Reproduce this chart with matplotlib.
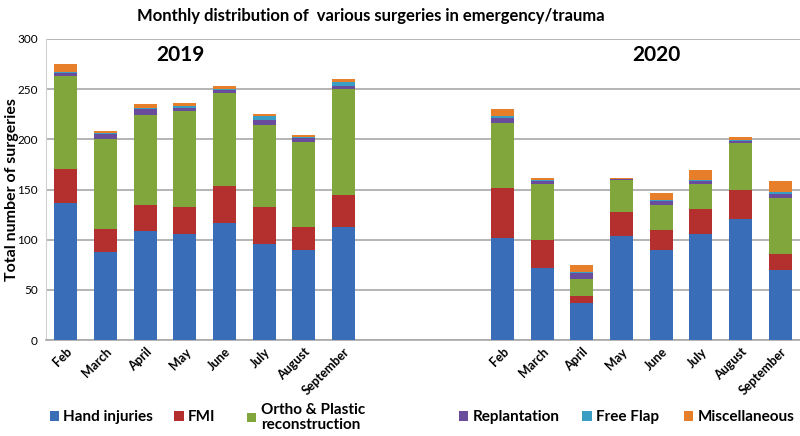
import matplotlib.pyplot as plt
import numpy as np

plt.rcParams['font.family'] = ['Lato', 'DejaVu Sans']

months = ['Feb', 'March', 'April', 'May', 'June', 'July', 'August', 'September']
series = ['Hand injuries', 'FMI', 'Ortho & Plastic\nreconstruction',
          'Replantation', 'Free Flap', 'Miscellaneous']
colors = ['#396DB8', '#B3302E', '#80A63C', '#6A4C9C', '#3A9EC4', '#E67E2A']

# 2019 values per series (Feb..September)
hand_2019 = [137, 88, 109, 106, 117, 96, 90, 113]
fmi_2019 = [33, 23, 26, 27, 37, 37, 23, 32]
ortho_2019 = [93, 89, 89, 95, 92, 81, 84, 105]
repl_2019 = [3, 5, 6, 3, 3, 5, 4, 3]
flap_2019 = [1, 1, 1, 2, 1, 4, 1, 4]
misc_2019 = [8, 2, 4, 3, 3, 2, 2, 3]

# 2020 values per series (Feb..September)
hand_2020 = [102, 72, 37, 104, 90, 106, 121, 70]
fmi_2020 = [50, 28, 7, 24, 20, 25, 29, 16]
ortho_2020 = [64, 56, 17, 31, 25, 25, 46, 56]
repl_2020 = [5, 2, 6, 1, 4, 2, 2, 4]
flap_2020 = [2, 1, 1, 0, 1, 1, 1, 2]
misc_2020 = [7, 2, 7, 1, 7, 10, 3, 10]

data_2019 = [hand_2019, fmi_2019, ortho_2019, repl_2019, flap_2019, misc_2019]
data_2020 = [hand_2020, fmi_2020, ortho_2020, repl_2020, flap_2020, misc_2020]

fig = plt.figure(figsize=(8, 4.36), dpi=100)
ax = fig.add_axes([0.0575, 0.22, 0.9425, 0.6906])

x19 = np.arange(len(months))
x20 = np.arange(len(months)) + 11
width = 0.58

handles = []
for xs, data in [(x19, data_2019), (x20, data_2020)]:
    bottom = np.zeros(len(months))
    hs = []
    for vals, c in zip(data, colors):
        b = ax.bar(xs, vals, width, bottom=bottom, color=c, zorder=3)
        bottom += np.array(vals)
        hs.append(b)
    handles = hs

ax.set_xlim(-0.5, 18.5)
ax.set_ylim(0, 300)
ax.set_yticks(np.arange(0, 301, 50))
ax.tick_params(axis='y', length=0, labelsize=8.5, pad=6)
ax.set_xticks(np.concatenate([x19, x20]))
ax.set_xticklabels(months + months, rotation=45, ha='right', rotation_mode='anchor',
                   fontsize=9, fontweight='bold')
ax.tick_params(axis='x', length=0, pad=4)
ax.grid(axis='y', color='#A8A8A8', linewidth=1.2, zorder=0)
for s in ['top', 'right']:
    ax.spines[s].set_visible(False)
ax.spines['left'].set_color('#D0D0D0')
ax.spines['bottom'].set_color('#A8A8A8')
ax.spines['bottom'].set_linewidth(1.2)

ax.set_ylabel('Total number of surgeries', fontsize=11.5, fontweight='bold')
ax.yaxis.set_label_coords(-0.036, 0.5)

ax.text(2.9, 284, '2019', ha='center', va='center', fontsize=15, fontweight='bold')
ax.text(14.87, 284, '2020', ha='center', va='center', fontsize=15, fontweight='bold')

fig.text(0.464, 0.963, 'Monthly distribution of  various surgeries in emergency/trauma',
         ha='center', va='center', fontsize=12, fontweight='bold')

# legend entries placed one by one, as in the original layout
leg_x = [0.062, 0.218, 0.309, 0.574, 0.728, 0.855]
for h, lab, lx in zip(handles, series, leg_x):
    leg = fig.legend([h], [lab], loc='center left', bbox_to_anchor=(lx, 0.043),
                     frameon=False, fontsize=11, handlelength=0.6, handleheight=0.6,
                     handletextpad=0.3, borderpad=0, borderaxespad=0)
    for t in leg.get_texts():
        t.set_fontweight('bold')
        t.set_linespacing(1.1)

fig.savefig('out.png', dpi=100)
